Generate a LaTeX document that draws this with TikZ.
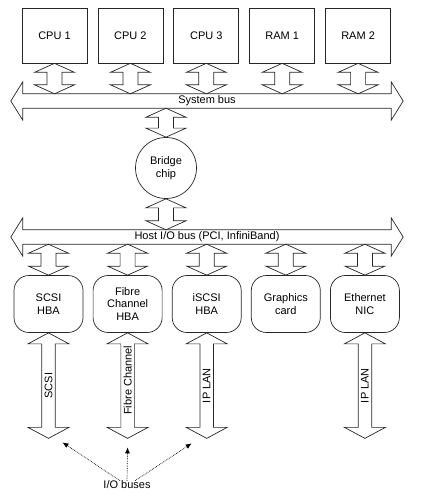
\documentclass[tikz,border=0pt]{standalone}
\usepackage{fontspec}
\setmainfont{Liberation Sans}
\usepackage{tikz}
\usetikzlibrary{
  positioning,
  calc,
  arrows.meta
}

% 横向きのバス(両端に矢印): #1 は本体のノード
\newcommand{\busarrow}[1]{%
  \draw[outline] let \p1=(#1.north west), \p2=(#1.south east) in
    (\x1,\y1) -- (\x2,\y1) -- (\x2,{\y1+12pt}) -- ({\x2+12pt},{0.5*(\y1+\y2)})
    -- (\x2,{\y2-12pt}) -- (\x2,\y2) -- (\x1,\y2) -- (\x1,{\y2-12pt})
    -- ({\x1-12pt},{0.5*(\y1+\y2)}) -- (\x1,{\y1+12pt}) -- cycle;}

% 縦向きの両矢印: #1 上端, #2 下端, #3 軸の半幅, #4 頭の半幅, #5 頭の長さ
\newcommand{\linkarrow}[5]{%
  \draw[outline] let \p1=(#1), \p2=(#2) in
    (\x1,\y1) -- ({\x1+#4},{\y1-#5}) -- ({\x1+#3},{\y1-#5}) -- ({\x1+#3},{\y2+#5})
    -- ({\x1+#4},{\y2+#5}) -- (\x1,\y2) -- ({\x1-#4},{\y2+#5}) -- ({\x1-#3},{\y2+#5})
    -- ({\x1-#3},{\y1-#5}) -- ({\x1-#4},{\y1-#5}) -- cycle;}
\newcommand{\shortlink}[2]{\linkarrow{#1}{#2}{7.5pt}{20pt}{9pt}}
\newcommand{\longlink}[2]{\linkarrow{#1}{#2}{6.75pt}{20.5pt}{11pt}}

\tikzset{
  outline/.style={draw=black!85, line width=0.7pt, line join=miter},
  unit/.style={draw=black!85, line width=0.7pt, minimum width=65pt, minimum height=55pt},
  hba/.style={draw=black!85, line width=0.7pt, rounded corners=15pt,
    minimum width=69pt, minimum height=57pt, align=center},
  busbody/.style={minimum width=368pt, minimum height=14pt, inner sep=0pt},
  ptr/.style={densely dotted, line width=0.7pt, -{Latex[length=6pt,width=5pt]}}
}

\begin{document}
\begin{tikzpicture}[x=1pt, y=-1pt, font=\fontsize{11}{12.8}\selectfont]
  \useasboundingbox (0,0) rectangle (420,494);

  % CPU と RAM
  \node[unit] (cpu1) at (54.5,35.5) {CPU 1};
  \node[unit] (cpu2) at (130.4,35.5) {CPU 2};
  \node[unit] (cpu3) at (206.3,35.5) {CPU 3};
  \node[unit] (ram1) at (282.2,35.5) {RAM 1};
  \node[unit] (ram2) at (358.1,35.5) {RAM 2};

  % システムバス
  \node[busbody] (sysbus) at (207,101) {};
  \busarrow{sysbus}
  \node at (sysbus) {System bus};

  \shortlink{cpu1.south}{cpu1.south |- sysbus.north}
  \shortlink{cpu2.south}{cpu2.south |- sysbus.north}
  \shortlink{cpu3.south}{cpu3.south |- sysbus.north}
  \shortlink{ram1.south}{ram1.south |- sysbus.north}
  \shortlink{ram2.south}{ram2.south |- sysbus.north}

  % ブリッジ
  \node[draw=black!85, line width=0.7pt, circle, minimum size=61pt, inner sep=0pt,
    align=center] (bridge) at (166,168) {Bridge\\chip};

  % ホスト I/O バス
  \node[busbody] (hostbus) at (207,237) {};
  \busarrow{hostbus}
  \node at (hostbus) {Host I/O bus (PCI, InfiniBand)};

  \shortlink{bridge.south |- sysbus.south}{bridge.north}
  \shortlink{bridge.south}{bridge.south |- hostbus.north}

  % アダプタ
  \node[hba] (scsi) at (48.5,304) {SCSI\\HBA};
  \node[hba] (fibre) at (127.6,304) {Fibre\\Channel\\HBA};
  \node[hba] (iscsi) at (206.7,304) {iSCSI\\HBA};
  \node[hba] (gfx) at (285.8,304) {Graphics\\card};
  \node[hba] (nic) at (364.9,304) {Ethernet\\NIC};

  \shortlink{scsi.north |- hostbus.south}{scsi.north}
  \shortlink{fibre.north |- hostbus.south}{fibre.north}
  \shortlink{iscsi.north |- hostbus.south}{iscsi.north}
  \shortlink{gfx.north |- hostbus.south}{gfx.north}
  \shortlink{nic.north |- hostbus.south}{nic.north}

  % I/O バス
  \coordinate (scsiend) at ([yshift=-105.5pt]scsi.south);
  \coordinate (fibreend) at ([yshift=-105.5pt]fibre.south);
  \coordinate (iscsiend) at ([yshift=-105.5pt]iscsi.south);
  \coordinate (nicend) at ([yshift=-105.5pt]nic.south);

  \longlink{scsi.south}{scsiend}
  \longlink{fibre.south}{fibreend}
  \longlink{iscsi.south}{iscsiend}
  \longlink{nic.south}{nicend}

  \path (scsi.south) -- (scsiend) node[midway, rotate=90] {SCSI};
  \path (fibre.south) -- (fibreend) node[pos=0.45, rotate=90] {Fibre Channel};
  \path (iscsi.south) -- (iscsiend) node[midway, rotate=90] {IP LAN};
  \path (nic.south) -- (nicend) node[midway, rotate=90] {IP LAN};

  % ラベル
  \node[inner sep=0pt] (iobus) at (127,485) {I/O buses};
  \coordinate (scsiptr) at ([shift={(14,4)}]scsiend);
  \coordinate (fibreptr) at ([shift={(0,9)}]fibreend);
  \coordinate (iscsiptr) at ([shift={(-15,5)}]iscsiend);
  \draw[ptr] ([xshift=-7pt]iobus.north) -- (scsiptr);
  \draw[ptr] (iobus.north) -- (fibreptr);
  \draw[ptr] ([xshift=8pt]iobus.north) -- (iscsiptr);
\end{tikzpicture}
\end{document}
